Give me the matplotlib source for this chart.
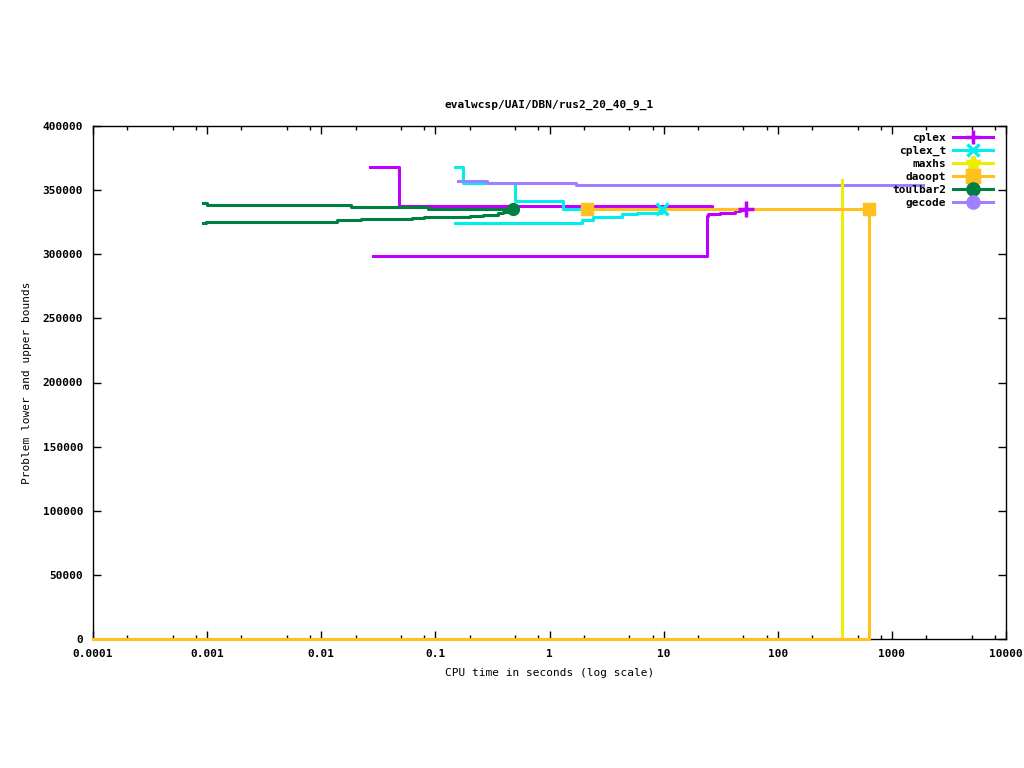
import matplotlib
matplotlib.use("Agg")
import matplotlib.pyplot as plt
from matplotlib.lines import Line2D
from matplotlib.ticker import LogLocator, MultipleLocator

plt.rcParams['font.family'] = ['DejaVu Sans Mono']
plt.rcParams['font.weight'] = 'bold'

# series (time in s, bound value)
cplex_ub_t = [0.027, 0.048, 26.6, 52.9]
cplex_ub_v = [368000, 337600, 335500, 335500]
cplex_lb_t = [0.0284, 24.0, 24.5, 31.3, 42.4, 46.8, 52.9]
cplex_lb_v = [298600, 330000, 331300, 332300, 333500, 334500, 335500]
cplex_mark = (52.9, 335500)

cplext_ub_t = [0.149, 0.175, 0.50, 1.31, 9.7]
cplext_ub_v = [368000, 355200, 341300, 335500, 335500]
cplext_lb_t = [0.149, 1.93, 2.41, 4.32, 5.86, 9.7]
cplext_lb_v = [324100, 326700, 329300, 331400, 332400, 335500]
cplext_mark = (9.7, 335500)

maxhs_t = [0.0001, 366, 366]
maxhs_v = [0, 0, 357800]

daoopt_t = [2.14, 632, 632, 0.0001]
daoopt_v = [335500, 335500, 0, 0]
daoopt_mark_t = [2.14, 632]
daoopt_mark_v = [335500, 335500]

tb2_ub_t = [0.00092, 0.001, 0.0182, 0.0863, 0.48]
tb2_ub_v = [339700, 338400, 336600, 335500, 335500]
tb2_lb_t = [0.00092, 0.00097, 0.0137, 0.0223, 0.0625, 0.0797, 0.201, 0.262, 0.355, 0.392, 0.48]
tb2_lb_v = [324100, 325400, 326700, 327200, 328000, 328800, 329800, 330600, 331900, 332700, 335500]
tb2_mark = (0.48, 335500)

gecode_t = [0.158, 0.284, 1.71, 204, 1879]
gecode_v = [356900, 355300, 354200, 353700, 353700]

names = ['cplex', 'cplex_t', 'maxhs', 'daoopt', 'toulbar2', 'gecode']
colors = ['#c000ff', '#00eeee', '#eeee00', '#ffc020', '#008040', '#a080ff']
markers = ['+', 'x', '*', 's', 'o', 'o']
msizes = [10, 9, 10, 8.5, 8, 8]

lw = 2.2
fig = plt.figure(figsize=(10.24, 7.68), dpi=100)
ax = fig.add_axes([93/1024, 1-639/768, 913/1024, 513/768])

ax.plot(cplex_ub_t, cplex_ub_v, drawstyle='steps-post', color=colors[0], lw=lw)
ax.plot(cplex_lb_t, cplex_lb_v, drawstyle='steps-post', color=colors[0], lw=lw)
ax.plot(cplext_ub_t, cplext_ub_v, drawstyle='steps-post', color=colors[1], lw=lw)
ax.plot(cplext_lb_t, cplext_lb_v, drawstyle='steps-post', color=colors[1], lw=lw)
ax.plot(maxhs_t, maxhs_v, color=colors[2], lw=lw, clip_on=False, zorder=3)
ax.plot(daoopt_t, daoopt_v, color=colors[3], lw=lw, clip_on=False, zorder=3)
ax.plot(tb2_ub_t, tb2_ub_v, drawstyle='steps-post', color=colors[4], lw=lw)
ax.plot(tb2_lb_t, tb2_lb_v, drawstyle='steps-post', color=colors[4], lw=lw)
ax.plot(gecode_t, gecode_v, drawstyle='steps-post', color=colors[5], lw=lw)

ax.plot([cplex_mark[0]], [cplex_mark[1]], ls='none', marker='+', ms=11, mew=2.5, color=colors[0], zorder=5)
ax.plot([cplext_mark[0]], [cplext_mark[1]], ls='none', marker='x', ms=9, mew=2.5, color=colors[1], zorder=5)
ax.plot(daoopt_mark_t, daoopt_mark_v, ls='none', marker='s', ms=9, color=colors[3], zorder=5)
ax.plot([tb2_mark[0]], [tb2_mark[1]], ls='none', marker='o', ms=8.5, color=colors[4], zorder=5)

ax.set_xscale('log')
ax.set_xlim(0.0001, 10000)
ax.set_ylim(0, 400000)
ax.xaxis.set_minor_locator(LogLocator(base=10, subs=[2, 5, 8], numticks=20))
xt = [1e-4, 1e-3, 1e-2, 0.1, 1, 10, 100, 1000, 10000]
ax.set_xticks(xt)
ax.set_xticklabels(['0.0001', '0.001', '0.01', '0.1', '1', '10', '100', '1000', '10000'])
ax.yaxis.set_major_locator(MultipleLocator(50000))
ax.yaxis.set_major_formatter(plt.FuncFormatter(lambda v, p: '%d' % v))

ax.tick_params(which='both', direction='in', top=True, right=True, labelsize=8, width=1)
ax.tick_params(which='major', length=6)
ax.tick_params(which='minor', length=3)
ax.tick_params(axis='x', pad=7)
ax.tick_params(axis='y', pad=7)
for s in ax.spines.values():
    s.set_linewidth(1)

ax.set_title('evalwcsp/UAI/DBN/rus2_20_40_9_1', fontsize=8, pad=13, fontweight='bold')
ax.set_xlabel('CPU time in seconds (log scale)', fontsize=8, labelpad=7)
ax.set_ylabel('Problem lower and upper bounds', fontsize=8, labelpad=8)

handles = []
for n, c, m, s in zip(names, colors, markers, msizes):
    handles.append(Line2D([], [], color=c, lw=lw, marker=m, ms=s, mew=2.5, label=n))
ax.legend(handles=handles, loc='upper right', bbox_to_anchor=(900/913, 506/513),
          frameon=False, markerfirst=False, fontsize=8, handlelength=3.6,
          handletextpad=0.6, labelspacing=0.27, borderpad=0, borderaxespad=0)

fig.savefig('out.png', dpi=100, facecolor='white')
